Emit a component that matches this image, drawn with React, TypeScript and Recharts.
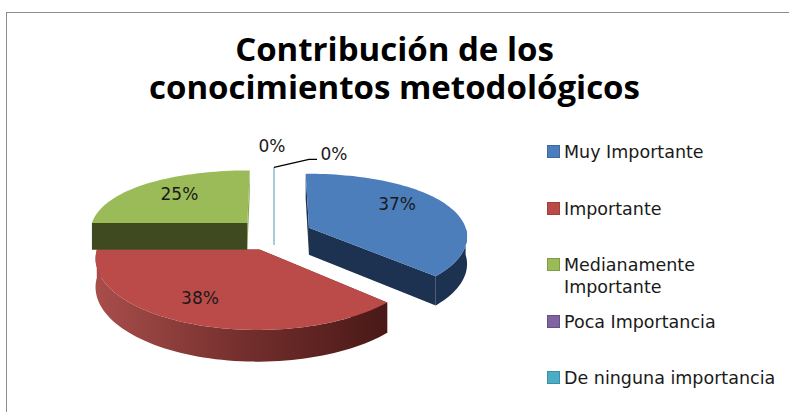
import { PieChart, Pie, Legend } from 'recharts';

const NAMES = ['Muy Importante', 'Importante', 'Medianamente Importante', 'Poca Importancia', 'De ninguna importancia'];
const VALUES = [37, 38, 25, 0, 0];

const TOP_COLORS = ['#4b7ebb', '#bb4b48', '#9bbb59', '#8064a2', '#4bacc6'];
const BORDER_COLORS = ['#3b6aa0', '#a03f3c', '#7f9c47', '#664f85', '#3a8ea6'];
const WALL_COLORS = ['#1d3250', '#6b2a28', '#3f4a21', '#a9cbd8', '#a9cbd8'];
const END_CUT_COLORS = ['#1d3250', '#6b2a28', '#8aa84f', '#a9cbd8', '#a9cbd8'];

const data = NAMES.map((name, i) => ({ name, value: VALUES[i], fill: TOP_COLORS[i] }));

// tuning for the faked 3D look
const EXPLODE = 0.243;
const DEPTH = 27.5;
const LABEL_NUDGE = [
    [5, -9],
    [-20, 6],
    [-6, -4],
    [-2, -39],
    [60, -31],
];
const LEGEND_TOPS = [141, 198, 254, 311, 367];

const rad = (d: number) => (d * Math.PI) / 180;

// world units are pie radii, Y grows towards the viewer
function project(cx: number, cy: number, r: number, X: number, Y: number) {
    const sy = cy + r * (0.4125 * Y + 0.0625 * Y * Y);
    const s = 1 + (sy - 240) * 0.0017;
    return { x: cx + r * X * s, y: sy, d: DEPTH * s };
}

const clockOf = (angle: number) => 90 - angle;

function Slice3D(props: any) {
    const { cx, cy, outerRadius: r, startAngle, endAngle, index } = props;
    const a = clockOf(startAngle);
    const b = clockOf(endAngle);
    const mid = (a + b) / 2;
    const ox = EXPLODE * Math.sin(rad(mid));
    const oy = -EXPLODE * Math.cos(rad(mid));
    const at = (t: number, k = 1) =>
        project(cx, cy, r, ox + k * Math.sin(rad(t)), oy - k * Math.cos(rad(t)));

    const apex = at(a, 0);
    const steps: number[] = [];
    for (let t = a; t < b; t += 2) steps.push(t);
    steps.push(b);
    const arc = steps.map((t) => at(t));

    const top = [apex, ...arc].map((p) => `${p.x},${p.y}`).join(' ');
    const cut = (t: number) => {
        const p = at(t);
        return `${apex.x},${apex.y} ${p.x},${p.y} ${p.x},${p.y + p.d} ${apex.x},${apex.y + apex.d}`;
    };

    const front = steps.filter((t) => t >= 90 && t <= 270).map((t) => at(t));
    const outer = [
        ...front.map((p) => `${p.x},${p.y}`),
        ...front.slice().reverse().map((p) => `${p.x},${p.y + p.d}`),
    ].join(' ');

    const empty = a === b;
    const wall = WALL_COLORS[index];
    const gradId = `wall-${index}`;

    return (
        <g>
            <defs>
                <linearGradient id="wall-1" x1="0" y1="0" x2="1" y2="0">
                    <stop offset="0%" stopColor="#a84e4b" />
                    <stop offset="50%" stopColor="#742f2d" />
                    <stop offset="100%" stopColor="#491917" />
                </linearGradient>
            </defs>
            <polygon points={cut(b)} fill={END_CUT_COLORS[index]} stroke={empty ? wall : 'none'} strokeWidth={empty ? 1.3 : 0} />
            <polygon points={cut(a)} fill={wall} stroke={empty ? wall : 'none'} strokeWidth={empty ? 1.3 : 0} />
            {front.length > 1 && <polygon points={outer} fill={index === 1 ? `url(#${gradId})` : wall} />}
            {!empty && <polygon points={top} fill={props.fill} />}
        </g>
    );
}

function SliceLabel(props: any) {
    const { cx, cy, outerRadius: r, midAngle, index, value } = props;
    const mid = clockOf(midAngle);
    const k = 0.6 + EXPLODE;
    const p = project(cx, cy, r, k * Math.sin(rad(mid)), -k * Math.cos(rad(mid)));
    const [dx, dy] = LABEL_NUDGE[index];
    const x = p.x + dx;
    const y = p.y + dy;
    const tip = project(cx, cy, r, 0, -1 - EXPLODE);
    return (
        <g>
            {index === 4 && (
                <polyline
                    points={`${tip.x},${tip.y} ${tip.x + 35},${tip.y - 8} ${tip.x + 43},${tip.y - 8}`}
                    fill="none"
                    stroke="#000"
                    strokeWidth={1.4}
                />
            )}
            <text x={x} y={y} textAnchor="middle" dominantBaseline="central" fontSize={17} fontFamily="DejaVu Sans" fill="#1a1a1a">
                {value}%
            </text>
        </g>
    );
}

function LegendBox({ payload }: any) {
    return (
        <div>
            {(payload || []).map((entry: any, i: number) => (
                <div key={entry.value} style={{ position: 'absolute', left: 547, top: LEGEND_TOPS[i], display: 'flex' }}>
                    <span
                        style={{
                            width: 11,
                            height: 11,
                            marginTop: 4,
                            background: entry.color,
                            border: `1.5px solid ${BORDER_COLORS[i]}`,
                        }}
                    />
                    <span
                        style={{
                            marginLeft: 4,
                            width: i === 2 ? 170 : 225,
                            fontFamily: 'DejaVu Sans',
                            fontSize: 17.5,
                            lineHeight: '22px',
                            color: '#1a1a1a',
                        }}
                    >
                        {entry.value}
                    </span>
                </div>
            ))}
        </div>
    );
}

export default function App() {
    return (
        <div style={{ position: 'absolute', left: 0, top: 0, width: 789, height: 412, overflow: 'hidden', background: '#fff' }}>
            <div
                style={{
                    position: 'absolute',
                    left: 6,
                    top: 12,
                    width: 790,
                    height: 410,
                    borderLeft: '1.5px solid #8c8c8c',
                    borderTop: '1.5px solid #8c8c8c',
                }}
            />
            <div
                style={{
                    position: 'absolute',
                    left: 0,
                    top: 30,
                    width: 789,
                    textAlign: 'center',
                    fontFamily: 'Open Sans',
                    fontWeight: 700,
                    fontSize: 33,
                    lineHeight: '38px',
                    color: '#000',
                }}
            >
                Contribución de los
                <br />
                conocimientos metodológicos
            </div>
            <div style={{ position: 'absolute', left: 0, top: 0 }}>
                <PieChart width={789} height={412} margin={{ top: 0, right: 0, bottom: 0, left: 0 }}>
                    <Pie
                        data={data}
                        dataKey="value"
                        nameKey="name"
                        cx={274}
                        cy={234}
                        outerRadius={160}
                        startAngle={90}
                        endAngle={-270}
                        stroke="none"
                        shape={Slice3D}
                        label={SliceLabel}
                        labelLine={false}
                        isAnimationActive={false}
                    />
                    <Legend
                        content={LegendBox}
                        itemSorter={null}
                        wrapperStyle={{ position: 'absolute', left: 0, top: 0, width: 789, height: 412 }}
                    />
                </PieChart>
            </div>
        </div>
    );
}
